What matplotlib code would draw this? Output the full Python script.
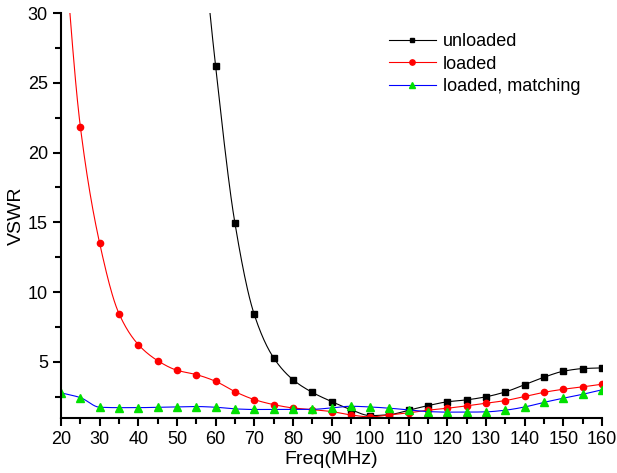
import numpy as np
import matplotlib
matplotlib.use("Agg")
from matplotlib import pyplot as plt
from matplotlib.ticker import MultipleLocator

# Data (frequency in MHz, VSWR)
freq_unloaded = [55, 60, 65, 70, 75, 80, 85, 90, 95, 100, 105, 110, 115, 120,
                 125, 130, 135, 140, 145, 150, 155, 160]
vswr_unloaded = [40.0, 26.2, 14.95, 8.4, 5.3, 3.73, 2.82, 2.16, 1.58, 1.15, 1.22,
                 1.54, 1.87, 2.14, 2.28, 2.5, 2.85, 3.37, 3.9, 4.33, 4.52, 4.57]

freq_loaded = list(range(20, 161, 5))
vswr_loaded = [38.0, 21.86, 13.5, 8.46, 6.24, 5.09, 4.4, 4.09, 3.61, 2.87, 2.3,
               1.94, 1.7, 1.58, 1.44, 1.2, 1.06, 1.2, 1.35, 1.54, 1.68, 1.85,
               2.04, 2.23, 2.52, 2.82, 3.04, 3.21, 3.4]

freq_match = list(range(20, 161, 5))
vswr_match = [2.78, 2.44, 1.75, 1.72, 1.72, 1.75, 1.77, 1.8, 1.75, 1.63, 1.59,
              1.59, 1.59, 1.6, 1.7, 1.82, 1.77, 1.68, 1.56, 1.44, 1.4, 1.4,
              1.42, 1.54, 1.77, 2.1, 2.4, 2.68, 3.0]


def smooth(x, y, n=20):
    # monotone cubic (Fritsch-Carlson) curve through the points, for the line only
    x = np.asarray(x, float)
    y = np.asarray(y, float)
    h = np.diff(x)
    d = np.diff(y) / h
    m = np.zeros_like(y)
    m[0], m[-1] = d[0], d[-1]
    for i in range(1, len(y) - 1):
        if d[i - 1] * d[i] > 0:
            w1 = 2 * h[i] + h[i - 1]
            w2 = h[i] + 2 * h[i - 1]
            m[i] = (w1 + w2) / (w1 / d[i - 1] + w2 / d[i])
    xs, ys = [], []
    for i in range(len(x) - 1):
        t = np.linspace(0, 1, n, endpoint=False)
        h00 = 2 * t**3 - 3 * t**2 + 1
        h10 = t**3 - 2 * t**2 + t
        h01 = -2 * t**3 + 3 * t**2
        h11 = t**3 - t**2
        xs.append(x[i] + t * h[i])
        ys.append(h00 * y[i] + h10 * h[i] * m[i] + h01 * y[i + 1] + h11 * h[i] * m[i + 1])
    xs.append([x[-1]])
    ys.append([y[-1]])
    return np.concatenate(xs), np.concatenate(ys)


plt.rcParams["font.family"] = ["Liberation Sans", "DejaVu Sans"]
fig = plt.figure(figsize=(6.17, 4.73), dpi=100)
ax = fig.add_axes([0.0989, 0.1169, 0.8768, 0.8556])

series = [
    (freq_unloaded, vswr_unloaded, "black", "black", "s", "unloaded", 4.2),
    (freq_loaded, vswr_loaded, "red", "red", "o", "loaded", 4.5),
    (freq_match, vswr_match, "blue", "#00e000", "^", "loaded, matching", 5.5),
]
for fx, fy, lc, mc, mk, lab, ms in series:
    sx, sy = smooth(fx, fy)
    ax.plot(sx, sy, color=lc, lw=0.8)
    ax.plot(fx, fy, ls="none", marker=mk, color=mc, ms=ms)
    ax.plot([], [], color=lc, lw=0.8, marker=mk, mfc=mc, mec=mc, ms=ms, label=lab)

ax.set_xlim(20, 160)
ax.set_ylim(1, 30)
ax.xaxis.set_major_locator(MultipleLocator(10))
ax.xaxis.set_minor_locator(MultipleLocator(5))
ax.yaxis.set_major_locator(MultipleLocator(5))
ax.yaxis.set_minor_locator(MultipleLocator(2.5))
ax.set_yticks([5, 10, 15, 20, 25, 30])

for s in ["top", "right"]:
    ax.spines[s].set_visible(False)
for s in ["left", "bottom"]:
    ax.spines[s].set_linewidth(1.5)
ax.tick_params(which="major", length=6, width=1.5, labelsize=13)
ax.tick_params(which="minor", length=4, width=1.5)

ax.set_xlabel("Freq(MHz)", fontsize=14, labelpad=2)
ax.set_ylabel("VSWR", fontsize=14, labelpad=2)

ax.legend(loc="upper right", bbox_to_anchor=(0.99, 0.99), frameon=False,
          fontsize=13, handlelength=2.6, handletextpad=0.4, labelspacing=0.3,
          markerscale=0.85)

fig.savefig("out.png", dpi=100)
